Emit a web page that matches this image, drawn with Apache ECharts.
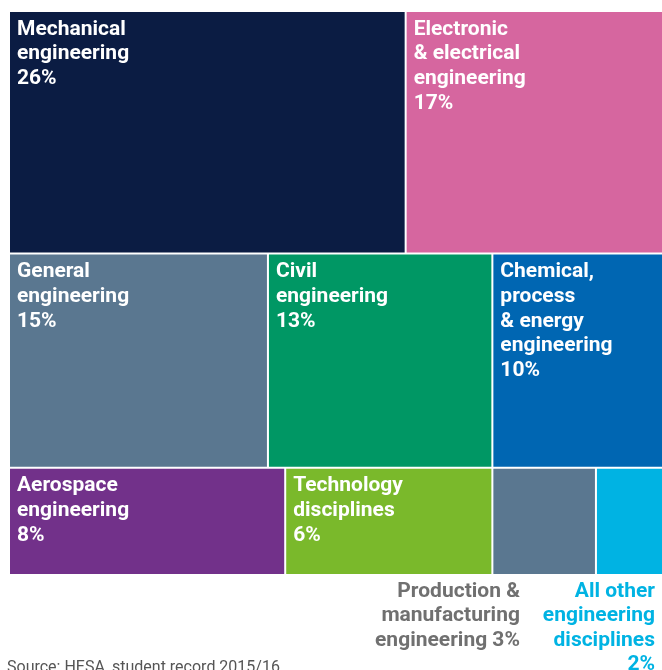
<!DOCTYPE html>
<html>
<head>
<meta charset="utf-8">
<script src="https://cdn.jsdelivr.net/npm/echarts@6/dist/echarts.min.js"></script>
<style>
  html, body { margin: 0; padding: 0; background: #ffffff; }
  #chart { width: 662px; height: 670px; }
</style>
</head>
<body>
<div id="chart"></div>
<script>
// Engineering first degree entrants by subject area (share of total, %)
const categories = [
  'Mechanical\nengineering',
  'Electronic\n& electrical\nengineering',
  'General\nengineering',
  'Civil\nengineering',
  'Chemical,\nprocess\n& energy\nengineering',
  'Aerospace\nengineering',
  'Technology\ndisciplines',
  'Production &\nmanufacturing\nengineering',
  'All other\nengineering\ndisciplines'
];
const shares = [26, 17, 15, 13, 10, 8, 6, 3, 2];
// Which horizontal band of the tile layout each subject sits in
const bands = [0, 0, 1, 1, 1, 2, 2, 2, 2];
const sourceNote = 'Source: HESA, student record 2015/16';

const tileColors = ['#0b1c43', '#d6669f', '#5a7790', '#009764', '#0066b2',
                    '#72318a', '#7ab92b', '#5a7790', '#00b3e3'];

// Small tiles carry their caption underneath, right-aligned
const outsideCaption = {
  7: { inset: 75, color: '#707070', percentOnSameLine: true },
  8: { inset: 9, color: '#00b3e3', percentOnSameLine: false }
};

// Slice-and-dice layout: bands stacked top to bottom, tiles left to right,
// each sized in proportion to its share.
const bandTotals = [];
bands.forEach((b, i) => { bandTotals[b] = (bandTotals[b] || 0) + shares[i]; });
const grandTotal = bandTotals.reduce((a, b) => a + b, 0);
const bandTop = [];
let acc = 0;
bandTotals.forEach((t, b) => { bandTop[b] = acc; acc += t / grandTotal * 100; });
const bandCursor = bandTotals.map(() => 0);
const tiles = shares.map((v, i) => {
  const b = bands[i];
  const x0 = bandCursor[b] / bandTotals[b];
  bandCursor[b] += v;
  const x1 = bandCursor[b] / bandTotals[b];
  const y0 = bandTop[b];
  const y1 = y0 + bandTotals[b] / grandTotal * 100;
  return [x0, x1, y0, y1, i];
});

const chart = echarts.init(document.getElementById('chart'), null, { renderer: 'canvas' });

const FONT = 'Roboto, "Liberation Sans", sans-serif';

chart.setOption({
  animation: false,
  backgroundColor: '#ffffff',
  // the tile area runs slightly past the right edge of the page
  grid: { left: 9, width: 656, top: 11, height: 564, outerBoundsMode: 'none', containLabel: false },
  xAxis: { type: 'value', min: 0, max: 1, show: false },
  yAxis: { type: 'value', min: 0, max: 100, inverse: true, show: false },
  graphic: [{
    type: 'text',
    left: 7,
    top: 660,
    style: {
      text: sourceNote,
      fill: '#555555',
      fontSize: 16,
      fontFamily: FONT
    }
  }],
  series: [{
    type: 'custom',
    data: tiles,
    encode: { x: [0, 1], y: [2, 3] },
    clip: false,
    renderItem: function (params, api) {
      const i = api.value(4);
      const p0 = api.coord([api.value(0), api.value(2)]);
      const p1 = api.coord([api.value(1), api.value(3)]);
      const x = p0[0] + 1, y = p0[1] + 1;
      const w = p1[0] - p0[0] - 2, h = p1[1] - p0[1] - 2;
      const children = [{
        type: 'rect',
        shape: { x: x, y: y, width: w, height: h },
        style: { fill: tileColors[i] }
      }];
      const out = outsideCaption[i];
      if (out) {
        children.push({
          type: 'text',
          style: {
            text: categories[i] + (out.percentOnSameLine ? ' ' : '\n') + shares[i] + '%',
            x: x + w - out.inset,
            y: y + h + 5,
            align: 'right',
            verticalAlign: 'top',
            fill: out.color,
            fontSize: 21,
            fontWeight: 'bold',
            lineHeight: 24.5,
            fontFamily: FONT
          }
        });
      } else {
        children.push({
          type: 'text',
          style: {
            text: categories[i] + '\n' + shares[i] + '%',
            x: x + 7,
            y: y + 5,
            align: 'left',
            verticalAlign: 'top',
            fill: '#ffffff',
            fontSize: 21,
            fontWeight: 'bold',
            lineHeight: 24.7,
            fontFamily: FONT
          }
        });
      }
      return { type: 'group', children: children };
    }
  }]
});
</script>
</body>
</html>
